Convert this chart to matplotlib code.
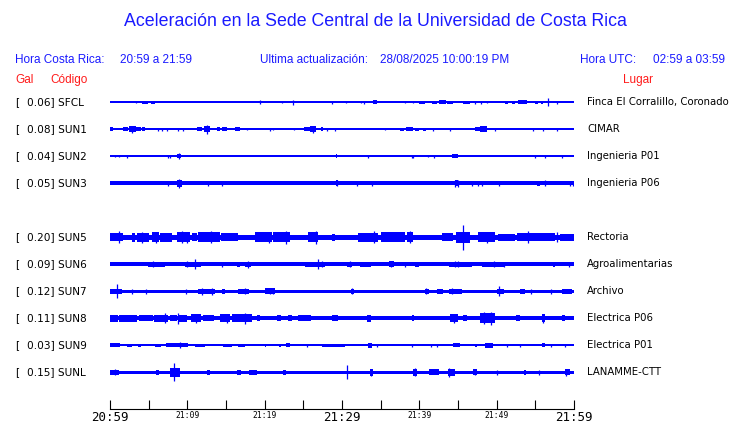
import matplotlib
matplotlib.use("Agg")
import matplotlib.pyplot as plt
from matplotlib.transforms import blended_transform_factory

# --- data ---
title = "Aceleración en la Sede Central de la Universidad de Costa Rica"
hora_cr = ("Hora Costa Rica:", "20:59 a 21:59")
actualizacion = ("Ultima actualización:", "28/08/2025 10:00:19 PM")
hora_utc = ("Hora UTC:", "02:59 a 03:59")

codes = ["SFCL", "SUN1", "SUN2", "SUN3", "SUN5", "SUN6", "SUN7", "SUN8", "SUN9", "SUNL"]
gal = [0.06, 0.08, 0.04, 0.05, 0.20, 0.09, 0.12, 0.11, 0.03, 0.15]
places = ["Finca El Corralillo, Coronado", "CIMAR", "Ingenieria P01", "Ingenieria P06",
          "Rectoria", "Agroalimentarias", "Archivo", "Electrica P06", "Electrica P01",
          "LANAMME-CTT"]
slots = [0, 1, 2, 3, 5, 6, 7, 8, 9, 10]   # SUN4 row is empty

tick_minutes = list(range(0, 61, 5))
tick_labels = ["20:59", "", "21:09", "", "21:19", "", "21:29", "", "21:39", "", "21:49", "", "21:59"]
big_labels = ["20:59", "21:29", "21:59"]

# baseline half-thickness (px) per trace
base = [0.6, 0.6, 0.6, 2.0, 2.5, 1.7, 1.5, 2.0, 1.0, 1.5]

# bursts: (start min, end min, half amplitude px)
bursts = {
    "SFCL": [(4.2, 4.9, 1.5), (5.3, 5.8, 1.5), (34.0, 34.5, 2), (40.0, 40.7, 1.5), (41.6, 42.3, 1.5),
             (42.6, 43.4, 2), (43.6, 44.4, 1.5), (45.6, 46.5, 1.5), (51.1, 51.5, 1.5), (52.0, 52.4, 1.5),
             (52.8, 53.9, 2), (55.0, 55.4, 1.5), (55.7, 56.0, 1.5)],
    "SUN1": [(0, 0.4, 2), (1.7, 2.3, 2), (2.5, 3.3, 3), (3.4, 4.0, 2), (4.1, 4.5, 2), (11.2, 11.9, 2),
             (12.1, 12.9, 3), (13.8, 14.2, 2), (14.5, 15.1, 2), (16.2, 16.8, 2), (25.1, 25.8, 2),
             (25.9, 26.6, 3), (27.3, 27.6, 2), (37.5, 38.0, 1.5), (38.3, 39.2, 2), (39.5, 39.9, 1.5),
             (40.5, 40.9, 1.5), (47.2, 47.8, 2), (47.9, 48.7, 3)],
    "SUN2": [(8.6, 9.2, 2), (29.2, 29.4, 2), (44.2, 45.0, 2)],
    "SUN3": [(8.6, 9.3, 3.5), (29.2, 29.5, 3), (44.6, 45.0, 3), (55.2, 55.6, 2.5)],
    "SUN5": [(0, 1.7, 4), (2.8, 3.2, 4.5), (3.5, 5.0, 4.5), (5.4, 6.3, 5), (6.5, 8.0, 4.5), (8.6, 10.3, 5),
             (10.6, 11.2, 4), (11.4, 14.2, 5), (14.4, 16.6, 4), (18.7, 20.9, 5), (21.1, 23.3, 5),
             (25.6, 26.9, 5), (28.7, 29.1, 3.5), (32.1, 34.7, 4.5), (35.1, 38.1, 5), (38.4, 39.2, 5),
             (42.9, 44.4, 4), (44.8, 46.6, 5.5), (47.6, 49.8, 5), (50.2, 52.4, 3.5), (52.6, 57.5, 4),
             (58.2, 60, 3.5)],
    "SUN6": [(4.9, 7.1, 2.5), (9.7, 11.8, 2.5), (16.4, 16.8, 2.5), (17.5, 18.2, 2.5), (25.2, 27.8, 2.5),
             (30.7, 31.3, 2.5), (32.3, 33.8, 2.5), (36.1, 36.7, 3), (39.5, 40.0, 2.5), (43.8, 46.8, 2.5),
             (48.1, 51.1, 2.5), (57.3, 57.6, 2.5)],
    "SUN7": [(0, 1.5, 2.5), (11.4, 13.6, 2.5), (14.5, 14.9, 2.5), (16.5, 18.0, 2.5), (20.0, 21.3, 3),
             (31.2, 31.6, 2.5), (40.7, 41.3, 2.5), (42.3, 43.0, 2.5), (43.8, 45.5, 2.5), (50.0, 51.0, 2.5),
             (53.0, 53.6, 2.5), (58.5, 59.8, 2.5)],
    "SUN8": [(0, 1.0, 3.5), (1.2, 3.5, 3.5), (3.8, 5.5, 3), (5.7, 7.5, 3.5), (7.8, 8.7, 3), (8.9, 10.0, 3.5),
             (10.5, 11.8, 4), (12.0, 13.5, 3), (14.2, 15.5, 4), (15.8, 18.3, 4), (19.0, 19.4, 3),
             (21.6, 22.1, 3), (23.0, 23.5, 3), (24.3, 26.0, 3), (28.7, 29.5, 3), (33.2, 33.7, 3.5),
             (39.0, 39.3, 3), (44.0, 45.0, 4), (45.7, 46.2, 3), (47.8, 49.8, 5), (52.5, 53.0, 3),
             (55.8, 56.3, 4), (58.5, 58.8, 3)],
    "SUN9": [(0, 1.3, 2), (2.2, 2.8, 1.5), (3.6, 4.0, 1.5), (5.8, 6.6, 1.5), (7.3, 10.1, 2), (11.0, 12.3, 1.5),
             (14.6, 15.8, 1.5), (16.6, 17.4, 1.5), (20.0, 20.2, 1.5), (21.8, 22.1, 1.5), (22.8, 23.3, 2),
             (27.4, 30.4, 1.5), (33.4, 33.9, 2.5), (44.4, 45.3, 2), (47.2, 47.5, 1.5), (48.5, 49.5, 2.5),
             (55.8, 56.2, 2)],
    "SUNL": [(0, 1.1, 2.5), (5.9, 6.4, 2.5), (7.8, 9.0, 4.5), (12.6, 12.9, 2.5), (16.4, 17.0, 2.5),
             (18.0, 19.0, 2.5), (22.4, 22.8, 2.5), (33.6, 34.0, 3.5), (39.2, 39.7, 3.5), (41.2, 42.5, 3),
             (43.7, 44.6, 3.5), (47.0, 47.4, 3), (53.5, 53.8, 2.5), (58.8, 59.5, 3)],
}

# isolated spikes: (minute, half amplitude px)
spikes = {
    "SFCL": [(3.3, 1), (19.4, 2), (22.2, 1), (23.6, 2.5), (28.7, 1.5), (30.5, 1), (32.5, 1), (32.8, 1.5),
             (38.1, 1), (39.2, 1), (47.2, 1.5), (48.0, 1.5), (48.7, 1), (56.7, 4), (57.8, 1.5)],
    "SUN1": [(2.8, 3.5), (6.2, 1.5), (6.7, 1.5), (7.4, 1.5), (8.8, 1.5), (9.4, 1.5), (12.6, 4.5), (17.7, 1),
             (20.7, 1.5), (21.1, 1), (23.8, 1), (26.2, 3.5), (28.0, 1.5), (29.1, 1.5), (35.5, 1), (41.8, 1.5),
             (44.0, 1.5), (49.8, 1.5), (54.7, 1.5), (56.0, 1.5), (57.8, 1.5)],
    "SUN2": [(0.6, 1), (1.1, 1), (2.2, 1.5), (7.5, 1.5), (7.7, 1.5), (8.9, 3), (33.3, 1.5), (39.0, 1.5),
             (39.2, 1.5), (41.1, 1), (41.9, 1.5), (54.9, 1.5), (56.3, 1.5), (58.5, 1.5)],
    "SUN3": [(7.5, 2.5), (8.9, 4.5), (12.7, 2.5), (14.5, 2.5), (29.3, 3), (32.0, 2.5), (33.9, 2.5),
             (44.6, 3.5), (45.0, 3.5), (46.8, 2.5), (47.6, 2.5), (48.1, 2.5), (50.3, 2.5), (56.3, 3),
             (59.5, 2.5), (59.9, 2.5)],
    "SUN5": [(1.1, 6), (4.2, 5.5), (6.0, 5.5), (9.3, 6), (10.0, 5.5), (13.0, 6), (20.5, 5.5), (22.8, 6.5),
             (26.6, 6.5), (34.2, 6), (38.8, 6), (45.7, 12.5), (48.7, 5.5), (54.0, 6), (57.8, 5)],
    "SUN6": [(5.5, 3), (9.9, 3), (11.0, 5), (14.5, 2.5), (17.8, 3.5), (26.9, 5), (27.4, 3), (31.0, 3),
             (36.3, 3), (38.2, 2.5), (44.6, 3), (45.0, 3), (49.6, 3), (51.0, 2.5), (59.3, 2.5)],
    "SUN7": [(0.95, 7), (2.9, 2.5), (4.7, 2.5), (9.8, 2.5), (11.9, 3.5), (13.2, 3.5), (17.5, 3), (20.7, 3),
             (21.1, 3), (31.3, 3), (40.9, 3), (44.2, 3), (50.3, 5), (54.5, 2.5), (57.0, 2.5)],
    "SUN8": [(7.1, 5), (8.8, 5.5), (11.1, 4.5), (15.1, 4.5), (17.5, 5.5), (44.5, 4.5), (48.3, 6),
             (49.3, 6.5), (56.0, 4.5)],
    "SUN9": [(9.0, 3), (25.5, 1.5), (34.5, 1.5), (39.0, 1.5), (41.5, 1.5), (42.3, 1.5), (51.3, 1.5),
             (53.0, 1.5), (57.0, 1.5), (58.8, 1.5)],
    "SUNL": [(0.7, 3), (8.3, 9), (30.6, 7), (33.8, 3.5), (39.5, 4), (43.9, 4.5), (47.2, 3), (50.0, 2.5),
             (55.5, 2.5), (59.0, 3.5)],
}

BLUE = "#0000ff"
RED = "#ff1a1a"
HEAD = "#1a1aff"
ROW = 27  # px between rows

W, H = 740, 423
fig = plt.figure(figsize=(W / 100, H / 100), dpi=100)
# trace area: x 110..574 px, y 90..409 px; y axis measured in pixels
ax = fig.add_axes([110 / W, (H - 409) / H, 464 / W, (409 - 90) / H])
ax.set_xlim(0, 60)
ax.set_ylim(307, -12)

for i, code in enumerate(codes):
    y = slots[i] * ROW
    b = base[i]
    ax.fill_between([0, 60], y - b, y + b, color=BLUE, lw=0, antialiased=False)
    for s, e, a in bursts[code]:
        ax.fill_between([s, e], y - a, y + a, color=BLUE, lw=0, antialiased=False)
    for m, a in spikes[code]:
        ax.vlines(m, y - a, y + a, color=BLUE, lw=0.9)

for side in ["left", "right", "top"]:
    ax.spines[side].set_visible(False)
ax.spines["bottom"].set_linewidth(0.8)
ax.set_yticks([])
ax.set_xticks(tick_minutes)
ax.set_xticklabels(tick_labels)
ax.tick_params(axis="x", direction="in", length=6.5, width=0.8, pad=1.5)
for lbl in ax.get_xticklabels():
    lbl.set_fontfamily("DejaVu Sans Mono")
    lbl.set_fontsize(9 if lbl.get_text() in big_labels else 5.8)

# row labels: x in figure pixels, y in data pixels
tr = blended_transform_factory(fig.transFigure, ax.transData)
for i, code in enumerate(codes):
    y = slots[i] * ROW
    ax.text(15 / W, y, "[", transform=tr, fontsize=7.6, va="center", ha="left", family="DejaVu Sans")
    ax.text(27 / W, y, f"{gal[i]:.2f}] {code}", transform=tr, fontsize=7.6, va="center", ha="left",
            family="DejaVu Sans")
    ax.text(587 / W, y, places[i], transform=tr, fontsize=7.3, va="center", ha="left",
            family="DejaVu Sans")


def ftext(x, y, s, **kw):
    fig.text(x / W, 1 - y / H, s, va="center", family="Liberation Sans", **kw)


ftext(375, 22, title, fontsize=12.8, color=HEAD, ha="center")
ftext(15, 60, hora_cr[0], fontsize=8.5, color=HEAD, ha="left")
ftext(120, 60, hora_cr[1], fontsize=8.5, color=HEAD, ha="left")
ftext(260, 60, actualizacion[0], fontsize=8.5, color=HEAD, ha="left")
ftext(380, 60, actualizacion[1], fontsize=8.5, color=HEAD, ha="left")
ftext(580, 60, hora_utc[0], fontsize=8.5, color=HEAD, ha="left")
ftext(725, 60, hora_utc[1], fontsize=8.5, color=HEAD, ha="right")
ftext(15, 80, "Gal", fontsize=8.5, color=RED, ha="left")
ftext(50, 80, "Código", fontsize=8.5, color=RED, ha="left")
ftext(638, 80, "Lugar", fontsize=8.5, color=RED, ha="center")

fig.savefig("out.png", dpi=100)
